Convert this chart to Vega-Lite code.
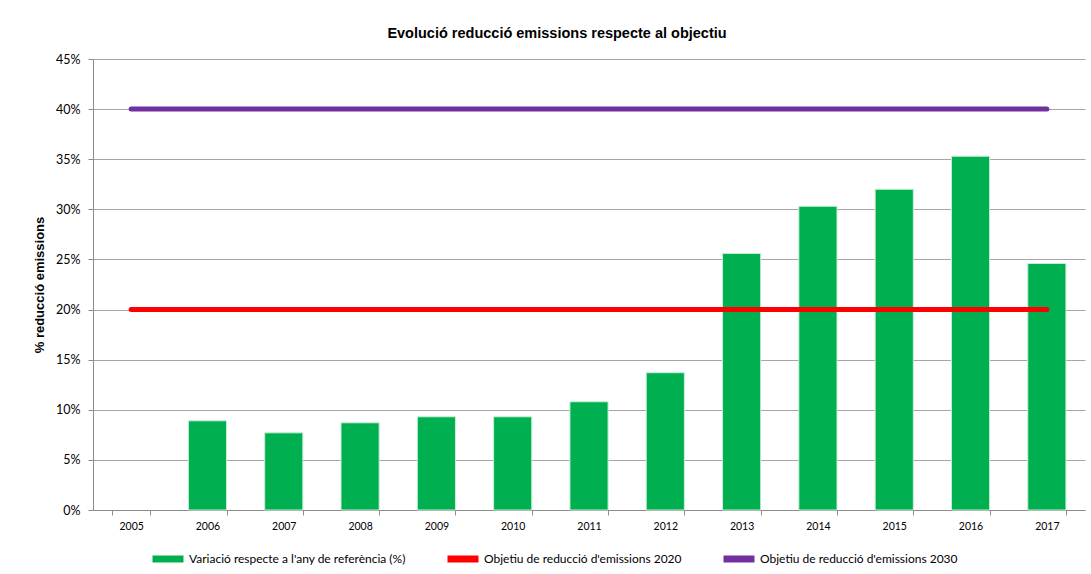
{
  "$schema": "https://vega.github.io/schema/vega-lite/v6.json",
  "width": 992,
  "height": 451,
  "autosize": {"type": "none"},
  "padding": {"left": 93, "top": 59, "right": 6, "bottom": 64},
  "background": "white",
  "title": {
    "text": "Evolució reducció emissions respecte al objectiu",
    "font": "Liberation Sans",
    "fontSize": 14.5,
    "fontWeight": "bold",
    "color": "#000000",
    "offset": 12,
    "dx": -32,
    "anchor": "middle"
  },
  "datasets": {
    "barres": [
      {"any": "2006", "serie": "Variació respecte a l'any de referència (%)", "valor": 0.089},
      {"any": "2007", "serie": "Variació respecte a l'any de referència (%)", "valor": 0.077},
      {"any": "2008", "serie": "Variació respecte a l'any de referència (%)", "valor": 0.087},
      {"any": "2009", "serie": "Variació respecte a l'any de referència (%)", "valor": 0.093},
      {"any": "2010", "serie": "Variació respecte a l'any de referència (%)", "valor": 0.093},
      {"any": "2011", "serie": "Variació respecte a l'any de referència (%)", "valor": 0.108},
      {"any": "2012", "serie": "Variació respecte a l'any de referència (%)", "valor": 0.137},
      {"any": "2013", "serie": "Variació respecte a l'any de referència (%)", "valor": 0.256},
      {"any": "2014", "serie": "Variació respecte a l'any de referència (%)", "valor": 0.303},
      {"any": "2015", "serie": "Variació respecte a l'any de referència (%)", "valor": 0.320},
      {"any": "2016", "serie": "Variació respecte a l'any de referència (%)", "valor": 0.353},
      {"any": "2017", "serie": "Variació respecte a l'any de referència (%)", "valor": 0.246}
    ],
    "objectius": [
      {"any": "2005", "serie": "Objetiu de reducció d'emissions 2020", "valor": 0.20},
      {"any": "2006", "serie": "Objetiu de reducció d'emissions 2020", "valor": 0.20},
      {"any": "2007", "serie": "Objetiu de reducció d'emissions 2020", "valor": 0.20},
      {"any": "2008", "serie": "Objetiu de reducció d'emissions 2020", "valor": 0.20},
      {"any": "2009", "serie": "Objetiu de reducció d'emissions 2020", "valor": 0.20},
      {"any": "2010", "serie": "Objetiu de reducció d'emissions 2020", "valor": 0.20},
      {"any": "2011", "serie": "Objetiu de reducció d'emissions 2020", "valor": 0.20},
      {"any": "2012", "serie": "Objetiu de reducció d'emissions 2020", "valor": 0.20},
      {"any": "2013", "serie": "Objetiu de reducció d'emissions 2020", "valor": 0.20},
      {"any": "2014", "serie": "Objetiu de reducció d'emissions 2020", "valor": 0.20},
      {"any": "2015", "serie": "Objetiu de reducció d'emissions 2020", "valor": 0.20},
      {"any": "2016", "serie": "Objetiu de reducció d'emissions 2020", "valor": 0.20},
      {"any": "2017", "serie": "Objetiu de reducció d'emissions 2020", "valor": 0.20},
      {"any": "2005", "serie": "Objetiu de reducció d'emissions 2030", "valor": 0.40},
      {"any": "2006", "serie": "Objetiu de reducció d'emissions 2030", "valor": 0.40},
      {"any": "2007", "serie": "Objetiu de reducció d'emissions 2030", "valor": 0.40},
      {"any": "2008", "serie": "Objetiu de reducció d'emissions 2030", "valor": 0.40},
      {"any": "2009", "serie": "Objetiu de reducció d'emissions 2030", "valor": 0.40},
      {"any": "2010", "serie": "Objetiu de reducció d'emissions 2030", "valor": 0.40},
      {"any": "2011", "serie": "Objetiu de reducció d'emissions 2030", "valor": 0.40},
      {"any": "2012", "serie": "Objetiu de reducció d'emissions 2030", "valor": 0.40},
      {"any": "2013", "serie": "Objetiu de reducció d'emissions 2030", "valor": 0.40},
      {"any": "2014", "serie": "Objetiu de reducció d'emissions 2030", "valor": 0.40},
      {"any": "2015", "serie": "Objetiu de reducció d'emissions 2030", "valor": 0.40},
      {"any": "2016", "serie": "Objetiu de reducció d'emissions 2030", "valor": 0.40},
      {"any": "2017", "serie": "Objetiu de reducció d'emissions 2030", "valor": 0.40}
    ]
  },
  "encoding": {
    "x": {
      "field": "any",
      "type": "ordinal",
      "title": null,
      "scale": {
        "domain": ["2005","2006","2007","2008","2009","2010","2011","2012","2013","2014","2015","2016","2017"],
        "paddingInner": 0.5,
        "paddingOuter": 0.25
      },
      "axis": {
        "labelAngle": 0,
        "labelFont": "Lato",
        "labelFontSize": 10.5,
        "labelColor": "#000000",
        "labelPadding": 6,
        "tickSize": 5,
        "tickColor": "#8c8c8c",
        "domainColor": "#8c8c8c",
        "tickBand": "extent",
        "grid": false
      }
    },
    "y": {
      "field": "valor",
      "type": "quantitative",
      "scale": {"domain": [0, 0.45], "nice": false},
      "axis": {
        "values": [0, 0.05, 0.1, 0.15, 0.2, 0.25, 0.3, 0.35, 0.4, 0.45],
        "format": ".0%",
        "title": "% reducció emissions",
        "titleFont": "Liberation Sans",
        "titleFontSize": 13,
        "titleFontWeight": "bold",
        "titleColor": "#000000",
        "titlePadding": 9,
        "labelFont": "Lato",
        "labelFontSize": 12.5,
        "labelColor": "#000000",
        "labelPadding": 8,
        "tickSize": 5,
        "tickColor": "#8c8c8c",
        "domainColor": "#8c8c8c",
        "grid": true,
        "gridColor": "#a6a6a6"
      }
    },
    "color": {
      "field": "serie",
      "type": "nominal",
      "scale": {
        "domain": ["Variació respecte a l'any de referència (%)", "Objetiu de reducció d'emissions 2020", "Objetiu de reducció d'emissions 2030"],
        "range": ["#00B050", "#FF0000", "#7030A0"]
      },
      "legend": {
        "title": null,
        "orient": "none",
        "direction": "horizontal",
        "legendX": 56,
        "legendY": 481,
        "symbolType": "stroke",
        "symbolSize": 961,
        "symbolStrokeWidth": 7,
        "labelFont": "Lato",
        "labelFontSize": 12,
        "labelColor": "#000000",
        "labelOffset": 2,
        "labelLimit": 0,
        "columnPadding": 27,
        "encode": {
          "symbols": {"update": {"stroke": {"scale": "color", "field": "value"}, "strokeCap": {"value": "butt"}}}
        }
      }
    }
  },
  "layer": [
    {
      "data": {"name": "barres"},
      "mark": {"type": "bar", "stroke": "#c9eed6", "strokeWidth": 1}
    },
    {
      "data": {"name": "objectius"},
      "mark": {"type": "line", "strokeWidth": 5, "strokeCap": "round"}
    }
  ],
  "config": {
    "view": {"stroke": null}
  }
}
